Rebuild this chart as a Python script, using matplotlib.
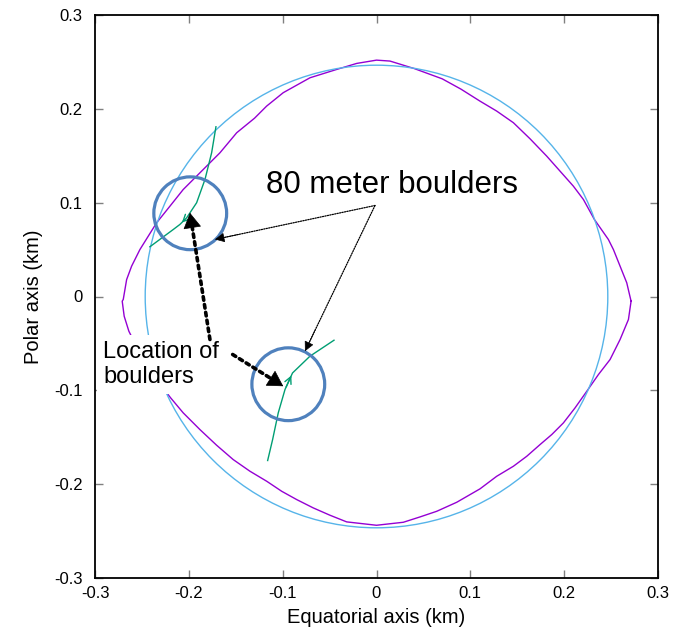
import matplotlib
matplotlib.use("Agg")
import matplotlib.pyplot as plt
from matplotlib.patches import Circle

plt.rcParams['font.family'] = ['Liberation Sans', 'DejaVu Sans']

# shape model outline (km), counter-clockwise from the +x side
shape_x = [0.2713, 0.2667, 0.2596, 0.2525, 0.2471, 0.2322, 0.2205, 0.2098, 0.1956,
           0.1814, 0.1636, 0.1459, 0.1281, 0.1103, 0.090, 0.070, 0.040, 0.0144, 0.0,
           -0.0211, -0.0424, -0.0709, -0.0994, -0.1171, -0.130, -0.149, -0.1668, -0.181,
           -0.206, -0.2201, -0.2343, -0.2521, -0.261, -0.2663, -0.2699, -0.271, -0.2689,
           -0.2639, -0.245, -0.2194, -0.206, -0.1882, -0.1704, -0.1527, -0.1349, -0.117,
           -0.101, -0.0851, -0.0674, -0.0496, -0.0318, 0.0, 0.0286, 0.0464, 0.0642,
           0.0855, 0.1103, 0.1281, 0.1459, 0.1601, 0.1743, 0.1868, 0.1992, 0.2116,
           0.2241, 0.2365, 0.2489, 0.2596, 0.2685, 0.2713]
shape_y = [-0.005, 0.0146, 0.0323, 0.050, 0.0608, 0.0821, 0.1034, 0.1176, 0.1336,
           0.1496, 0.1681, 0.1852, 0.1976, 0.2082, 0.221, 0.232, 0.243, 0.2509, 0.2519,
           0.2484, 0.242, 0.2331, 0.2172, 0.2029, 0.190, 0.1745, 0.1532, 0.139,
           0.114, 0.0963, 0.0786, 0.0501, 0.0323, 0.018, -0.0032, -0.005, -0.021,
           -0.037, -0.075, -0.108, -0.124, -0.1418, -0.1585, -0.1738, -0.1862, -0.1969,
           -0.2076, -0.2164, -0.2253, -0.2331, -0.2402, -0.2438, -0.2406, -0.2349, -0.2289,
           -0.2193, -0.205, -0.1916, -0.1809, -0.1703, -0.1578, -0.1471, -0.1347, -0.1187,
           -0.101, -0.0832, -0.0672, -0.0458, -0.0245, -0.005]

# reference sphere radius (km)
sphere_r = 0.2465

# boulder trajectories (km), in direction of motion
traj1_x = [-0.1711, -0.1757, -0.1828, -0.1917, -0.2023, -0.2095, -0.2166, -0.2415]
traj1_y = [0.1809, 0.1532, 0.1247, 0.0999, 0.0839, 0.0768, 0.0714, 0.053]
traj2_x = [-0.116, -0.1107, -0.1047, -0.0975, -0.0895, -0.0709, -0.0453]
traj2_y = [-0.1748, -0.1524, -0.124, -0.0991, -0.0815, -0.0636, -0.0466]

# boulder markers: centres and radius (km)
boulder_x = [-0.1985, -0.094]
boulder_y = [0.0887, -0.0935]
boulder_r = 0.0388

ticks = [-0.3, -0.2, -0.1, 0, 0.1, 0.2, 0.3]
tick_labels = ['-0.3', '-0.2', '-0.1', '0', '0.1', '0.2', '0.3']


def dotted_arrow(ax, start, tip, lw, dots, head, scale):
    # dotted shaft, then a solid head on the last bit of the segment
    ax.annotate('', xy=tip, xytext=start,
                arrowprops=dict(arrowstyle='-', color='black', lw=lw, linestyle=dots,
                                shrinkA=0, shrinkB=scale * 0.4), zorder=6)
    near = (start[0] + 0.85 * (tip[0] - start[0]), start[1] + 0.85 * (tip[1] - start[1]))
    ax.annotate('', xy=tip, xytext=near,
                arrowprops=dict(arrowstyle=head, color='black', lw=0.5, linestyle='-',
                                mutation_scale=scale, shrinkA=0, shrinkB=0), zorder=6)


fig = plt.figure(figsize=(6.76, 6.43), dpi=100)
ax = fig.add_axes([95 / 676, 1 - 578 / 643, 563 / 676, 563 / 643])

ax.plot(shape_x, shape_y, color='#9400D3', lw=1.0, zorder=2)
ax.add_patch(Circle((0, 0), sphere_r, fill=False, color='#56B4E9', lw=1.0, zorder=2))

ax.plot(traj1_x, traj1_y, color='#009E73', lw=1.0, zorder=3)
ax.plot(traj2_x, traj2_y, color='#009E73', lw=1.0, zorder=3)
# direction arrows on trajectories
ax.annotate('', xy=(traj1_x[5], traj1_y[5]), xytext=(traj1_x[4], traj1_y[4]),
            arrowprops=dict(arrowstyle='->', color='#009E73', lw=1.0, mutation_scale=12), zorder=3)
ax.annotate('', xy=(traj2_x[4], traj2_y[4]), xytext=(traj2_x[3], traj2_y[3]),
            arrowprops=dict(arrowstyle='->', color='#009E73', lw=1.0, mutation_scale=12), zorder=3)

for bx, by in zip(boulder_x, boulder_y):
    ax.add_patch(Circle((bx, by), boulder_r, fill=False, color='#4F81BD', lw=2.3, zorder=4))

# labels
ax.text(0.0162, 0.1183, '80 meter boulders', fontsize=22.5, ha='center', va='center', zorder=5)
ax.text(-0.2913, -0.0725, 'Location of\nboulders', fontsize=17, ha='left', va='center',
        linespacing=1.2, zorder=5,
        bbox=dict(facecolor='white', edgecolor='none', pad=4))

# thin dotted pointers
for tip in [(-0.1722, 0.0608), (-0.0762, -0.0583)]:
    dotted_arrow(ax, (-0.0016, 0.097), tip, 0.9, (0, (1, 1)),
                 '-|>,head_length=0.6,head_width=0.3', 10)
# thick dotted pointers
dotted_arrow(ax, (-0.1775, -0.0458), (-0.1988, 0.0892), 2.6, (0, (1, 1.2)),
             '-|>,head_length=0.6,head_width=0.35', 17)
dotted_arrow(ax, (-0.1533, -0.0618), (-0.0994, -0.0956), 2.6, (0, (1, 1.2)),
             '-|>,head_length=0.6,head_width=0.35', 17)

ax.set_xlim(-0.3, 0.3)
ax.set_ylim(-0.3, 0.3)
ax.set_xticks(ticks)
ax.set_xticklabels(tick_labels)
ax.set_yticks(ticks)
ax.set_yticklabels(tick_labels)
ax.tick_params(direction='in', top=True, right=True, length=6, width=1, color='#808080',
               labelsize=12)
ax.tick_params(axis='y', pad=9)
ax.tick_params(axis='x', pad=6)
for s in ax.spines.values():
    s.set_linewidth(1.3)

ax.set_xlabel('Equatorial axis (km)', fontsize=14.5, labelpad=5)
ax.set_ylabel('Polar axis (km)', fontsize=14.5, labelpad=8)

fig.savefig('out.png', dpi=100)
